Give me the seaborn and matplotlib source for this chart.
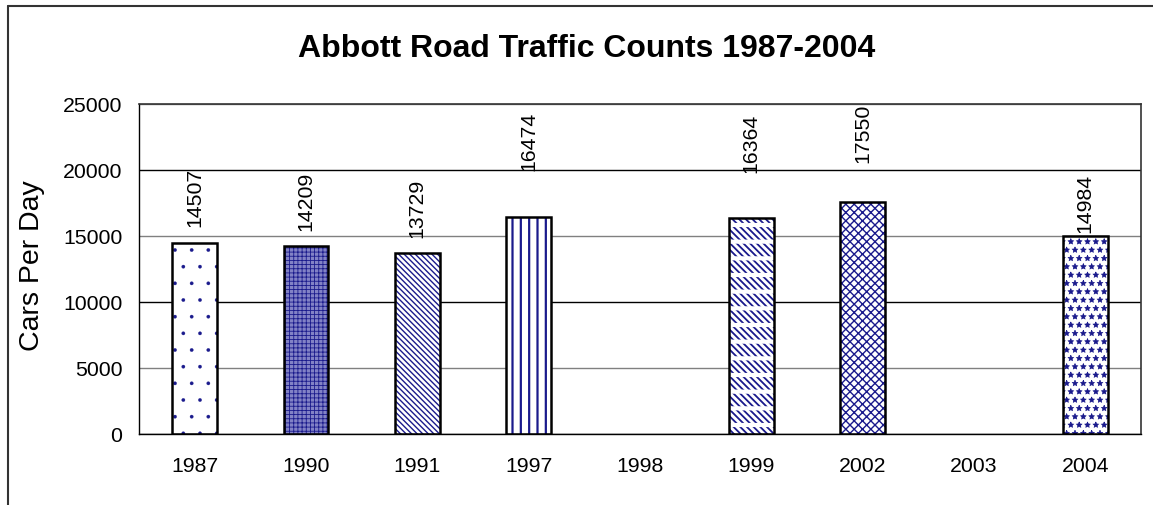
import numpy as np
import pandas as pd
import matplotlib
matplotlib.use("Agg")
import matplotlib.pyplot as plt
from matplotlib.lines import Line2D
import seaborn as sns

# ---- data ----
years = ["1987", "1990", "1991", "1997", "1998", "1999", "2002", "2003", "2004"]
counts = [14507, 14209, 13729, 16474, np.nan, 16364, 17550, np.nan, 14984]
title = "Abbott Road Traffic Counts 1987-2004"
ylabel = "Cars Per Day"
yticks = [0, 5000, 10000, 15000, 20000, 25000]

# ---- styles (per category) ----
hatches = {"1987": ".", "1990": "++++", "1991": "\\\\\\\\\\\\", "1997": "||",
           "1999": "\\\\\\\\\\", "2002": "xxxx", "2004": "**"}
hatch_lw = {"1987": 0.2, "1990": 0.6, "1991": 1.0, "1997": 1.6,
            "1999": 1.3, "2002": 1.0, "2004": 0.5}
faces = {"1990": "#8282c6"}
label_gap_px = {"1987": 17, "1990": 16, "1991": 16, "1997": 47,
                "1999": 46, "2002": 40, "2004": 4}
NAVY = "#1a1a8c"

sns.set_style("white")
plt.rcParams["font.family"] = ["Liberation Sans", "DejaVu Sans"]
plt.rcParams["text.color"] = "black"
plt.rcParams["hatch.linewidth"] = 1.0

df = pd.DataFrame({"year": years, "count": counts})

fig = plt.figure(figsize=(11.53, 5.06), dpi=100)
ax = fig.add_axes([139 / 1153, 1 - 435 / 506, (1141 - 139) / 1153, 330 / 506])


def cat_of(p):
    return years[int(round(p.get_x() + p.get_width() / 2))]


sns.barplot(data=df, x="year", y="count", order=years, color="white",
            width=0.4, ax=ax, errorbar=None, saturation=1)
for p in ax.patches:
    yr = cat_of(p)
    p.set_facecolor(faces.get(yr, "white"))
    p.set_edgecolor(NAVY)
    p.set_linewidth(0)
    p.set_hatch(hatches.get(yr, ""))
    if hasattr(p, "set_hatch_linewidth"):
        p.set_hatch_linewidth(hatch_lw.get(yr, 1.0))
    p.set_zorder(2)

# white horizontal breaks for the dashed-diagonal pattern of 1999
n0 = len(ax.patches)
sns.barplot(data=df, x="year", y="count", order=years, color="white",
            width=0.4, ax=ax, errorbar=None, saturation=1)
for p in ax.patches[n0:]:
    yr = cat_of(p)
    if yr != "1999":
        p.set_visible(False)
        continue
    p.set_facecolor("none")
    p.set_edgecolor("white")
    p.set_linewidth(0)
    p.set_hatch("-")
    if hasattr(p, "set_hatch_linewidth"):
        p.set_hatch_linewidth(3.0)
    p.set_zorder(2.5)

# outline layer
n1 = len(ax.patches)
sns.barplot(data=df, x="year", y="count", order=years, color="black",
            fill=False, width=0.4, ax=ax, errorbar=None, saturation=1,
            linewidth=1.8)
for p in ax.patches[n1:]:
    p.set_edgecolor("black")
    p.set_facecolor("none")
    p.set_zorder(3)

# value labels
for i, yr in enumerate(years):
    v = counts[i]
    if np.isnan(v):
        continue
    ax.annotate(f"{int(v)}", xy=(i, v), xytext=(0, label_gap_px[yr]),
                textcoords="offset pixels", rotation=90, ha="center",
                va="bottom", fontsize=15.3, color="black", zorder=5,
                annotation_clip=False)

ax.set_ylim(0, 25000)
ax.set_xlim(-0.5, len(years) - 0.5)
ax.set_yticks(yticks)
ax.set_yticklabels([str(t) for t in yticks])
ax.set_xlabel("")
ax.set_ylabel("")
ax.tick_params(axis="y", length=0, pad=12, labelsize=15.3, colors="black")
ax.tick_params(axis="x", which="major", length=0, pad=16, labelsize=15.3,
               colors="black")
ax.set_xticks(np.arange(-0.5, len(years), 1.0), minor=True)
ax.tick_params(axis="x", which="minor", length=4.5, width=1.2,
               direction="out", color="#555555")

ax.set_axisbelow(True)
ax.yaxis.grid(True, linewidth=1.0)
for t, gl in zip(yticks, ax.get_ygridlines()):
    gl.set_color("black" if t % 10000 == 0 else "#808080")

for s in ["left", "bottom"]:
    ax.spines[s].set_color("black")
    ax.spines[s].set_linewidth(1.0)
for s in ["top", "right"]:
    ax.spines[s].set_color("#333333")
    ax.spines[s].set_linewidth(1.2)

fig.text(587 / 1153, 1 - 49 / 506, title, ha="center", va="center",
         fontsize=23, fontweight="bold", color="black")
fig.text(32 / 1153, 1 - 266 / 506, ylabel, ha="center", va="center",
         rotation=90, fontsize=20.5, color="black")

# outer chart border (top and left edges visible)
fig.add_artist(Line2D([8 / 1153, 1.0], [1 - 7 / 506, 1 - 7 / 506],
                      transform=fig.transFigure, color="#333333", lw=1.5))
fig.add_artist(Line2D([8 / 1153, 8 / 1153], [0.0, 1 - 7 / 506],
                      transform=fig.transFigure, color="#333333", lw=1.5))

fig.savefig("out.png", dpi=100)
